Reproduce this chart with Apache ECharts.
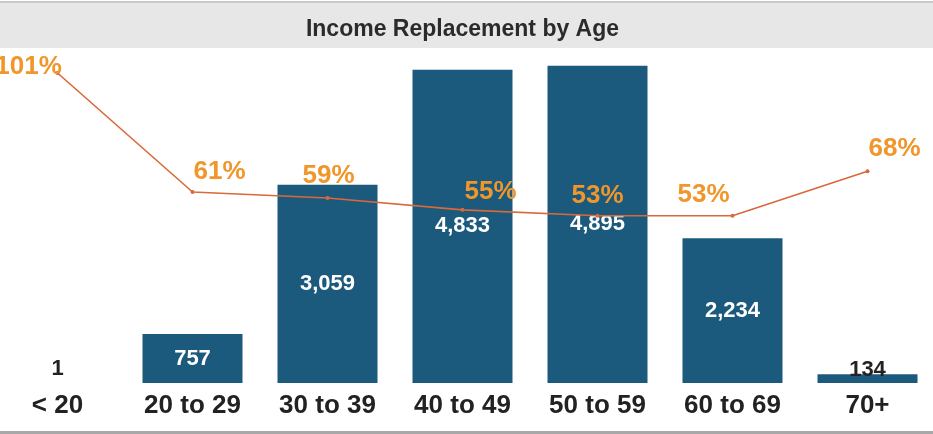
<!DOCTYPE html>
<html>
<head>
<meta charset="utf-8">
<script src="https://cdn.jsdelivr.net/npm/echarts@6/dist/echarts.min.js"></script>
<style>
  html, body { margin: 0; padding: 0; background: #fff; overflow: hidden; }
  /* the plot runs a little past both page edges, so the chart box is wider than the page */
  #chart { width: 945px; height: 434px; margin-left: -10px; }
</style>
</head>
<body>
<div id="chart"></div>
<script>
const ageGroups = ['< 20', '20 to 29', '30 to 39', '40 to 49', '50 to 59', '60 to 69', '70+']
const headcount = [1, 757, 3059, 4833, 4895, 2234, 134]
const replacement = [101, 61, 59, 55, 53, 53, 68]

// label nudges so the percentages sit where they do in the original
const pctOffsets = [[-29, 14], [27, 0], [1, -2], [28, 2], [0, 0], [-29, -1], [27, -2]]

const myChart = echarts.init(document.getElementById('chart'))

const font = '"Liberation Sans", Arial, sans-serif'

const option = {
  animation: false,
  textStyle: { fontFamily: font },
  graphic: [
    { type: 'rect', shape: { x: 0, y: 3, width: 945, height: 45 }, style: { fill: '#e7e7e7' }, z: -1 },
    { type: 'rect', shape: { x: 0, y: 1, width: 945, height: 2 }, style: { fill: '#c9c9c9' }, z: -1 },
    { type: 'rect', shape: { x: 0, y: 431, width: 945, height: 3 }, style: { fill: '#a8a8a8' }, z: -1 }
  ],
  title: {
    text: 'Income Replacement by Age',
    left: 'center',
    top: 13,
    textStyle: { fontSize: 23, fontWeight: 'bold', color: '#2b2b2b', fontFamily: font }
  },
  grid: { left: 0, right: 0, top: 59, bottom: 51 },
  xAxis: {
    type: 'category',
    data: ageGroups,
    axisLine: { show: false },
    axisTick: { show: false },
    axisLabel: { margin: 10, fontSize: 26, fontWeight: 'bold', color: '#222', fontFamily: font }
  },
  yAxis: [
    { type: 'value', min: 0, max: 5000, show: false, splitLine: { show: false } },
    { type: 'value', min: -3.2, max: 105.7, show: false, splitLine: { show: false } }
  ],
  series: [
    {
      name: 'Count',
      type: 'bar',
      barWidth: 100,
      itemStyle: { color: '#1b5a7d' },
      label: {
        show: true,
        position: 'inside',
        color: '#fff',
        fontSize: 22,
        fontWeight: 'bold',
        fontFamily: font,
        formatter: p => p.value.toLocaleString('en-US')
      },
      data: headcount.map(v => {
        if (v < 500) {
          return {
            value: v,
            label: { position: 'top', color: '#222', offset: v > 50 ? [0, 12] : [0, 2] }
          }
        }
        return v
      })
    },
    {
      name: 'Replacement',
      type: 'line',
      yAxisIndex: 1,
      symbol: 'circle',
      symbolSize: 4,
      lineStyle: { color: '#d9683a', width: 1.6 },
      itemStyle: { color: '#d9683a' },
      label: {
        show: true,
        position: 'top',
        color: '#f0962a',
        fontSize: 26,
        fontWeight: 'bold',
        fontFamily: font,
        formatter: '{c}%'
      },
      z: 5,
      data: replacement.map((v, i) => ({ value: v, label: { offset: pctOffsets[i] } }))
    }
  ]
}

myChart.setOption(option)
</script>
</body>
</html>
